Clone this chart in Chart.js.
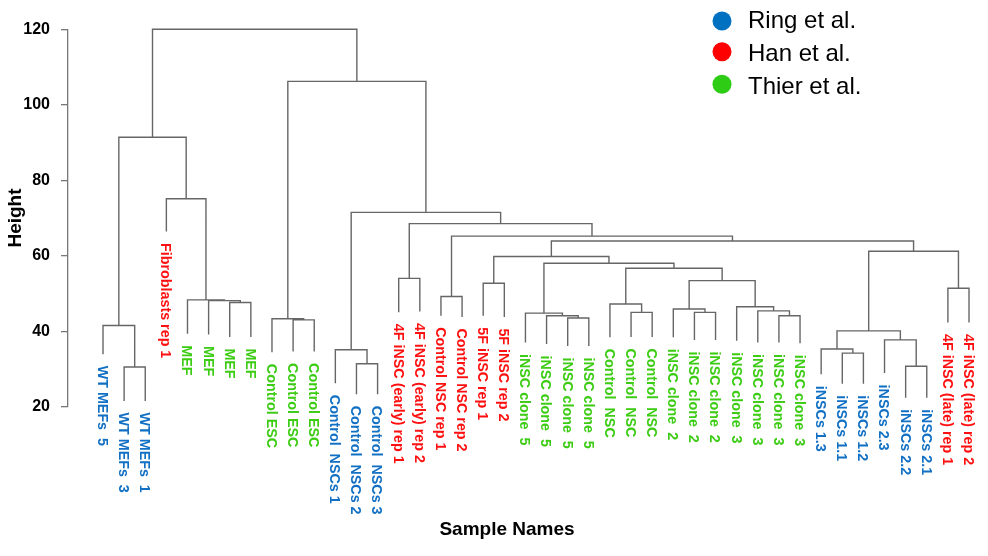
<!DOCTYPE html>
<html>
<head>
<meta charset="utf-8">
<script src="https://cdn.jsdelivr.net/npm/chart.js@4.4.1/dist/chart.umd.min.js"></script>
<style>
  html, body { margin: 0; padding: 0; background: #fff; }
  #wrap { width: 988px; height: 556px; position: relative; }
</style>
</head>
<body>
<div id="wrap"><canvas id="dendro"></canvas></div>
<script>
// leaves, left to right
const leafLabels = [
  'WT MEFs  5', 'WT MEFs  3', 'WT MEFs  1', 'Fibroblasts rep 1',
  'MEF', 'MEF', 'MEF', 'MEF',
  'Control ESC', 'Control ESC', 'Control ESC',
  'Control  NSCs 1', 'Control  NSCs 2', 'Control  NSCs 3',
  '4F iNSC (early) rep 1', '4F iNSC (early) rep 2',
  'Control NSC rep 1', 'Control NSC rep 2',
  '5F iNSC rep 1', '5F iNSC rep 2',
  'iNSC clone  5', 'iNSC clone  5', 'iNSC clone  5', 'iNSC clone  5',
  'Control  NSC', 'Control  NSC', 'Control  NSC',
  'iNSC clone  2', 'iNSC clone  2', 'iNSC clone  2',
  'iNSC clone  3', 'iNSC clone  3', 'iNSC clone  3', 'iNSC clone  3',
  'iNSCs 1.3', 'iNSCs 1.1', 'iNSCs 1.2', 'iNSCs 2.3', 'iNSCs 2.2', 'iNSCs 2.1',
  '4F iNSC (late) rep 1', '4F iNSC (late) rep 2'
];
// 0 = Ring, 1 = Han, 2 = Thier
const leafStudy = [
  0, 0, 0, 1,
  2, 2, 2, 2,
  2, 2, 2,
  0, 0, 0,
  1, 1,
  1, 1,
  1, 1,
  2, 2, 2, 2,
  2, 2, 2,
  2, 2, 2,
  2, 2, 2, 2,
  0, 0, 0, 0, 0, 0,
  1, 1
];
// height where each leaf line ends
const leafBase = [
  33.9, 21.5, 21.5, 66.4,
  39.3, 39.1, 38.5, 38.5,
  34.4, 34.6, 34.6,
  26.2, 23.3, 23.3,
  45.0, 45.2,
  44.1, 43.8,
  44.1, 43.8,
  37.0, 36.6, 36.1, 36.1,
  38.4, 38.5, 38.5,
  38.4, 37.7, 37.7,
  37.5, 37.0, 37.0, 36.8,
  28.6, 26.1, 26.1, 28.9, 22.4, 22.4,
  42.3, 42.3
];
// merges like R hclust: negative = leaf number, positive = earlier merge row
const merges = [
  [-2, -3, 30.5],
  [-1, 1, 41.5],
  [-7, -8, 47.6],
  [-6, 3, 48.1],
  [-5, 4, 48.3],
  [-4, 5, 75.1],
  [2, 6, 91.4],
  [-10, -11, 43.0],
  [-9, 8, 43.3],
  [-13, -14, 31.4],
  [-12, 10, 35.1],
  [-15, -16, 54.0],
  [-17, -18, 49.2],
  [-19, -20, 52.7],
  [-23, -24, 43.5],
  [-22, 15, 44.1],
  [-21, 16, 44.8],
  [-26, -27, 45.0],
  [-25, 18, 47.2],
  [-29, -30, 45.0],
  [-28, 20, 45.9],
  [-33, -34, 44.1],
  [-32, 22, 45.4],
  [-31, 23, 46.5],
  [21, 24, 53.4],
  [19, 25, 56.7],
  [17, 26, 58.0],
  [14, 27, 59.8],
  [-36, -37, 34.2],
  [-35, 29, 35.3],
  [-39, -40, 30.7],
  [-38, 31, 37.7],
  [30, 32, 40.1],
  [-41, -42, 51.4],
  [33, 34, 61.2],
  [28, 35, 63.9],
  [13, 36, 65.2],
  [12, 37, 68.5],
  [11, 38, 71.5],
  [9, 39, 106.2],
  [7, 40, 120]
];
const studies = ['Ring et al.', 'Han et al.', 'Thier et al.'];
const studyColors = ['#0070c0', '#ff0000', '#2ecc14'];
const labelColors = ['#1170c4', '#ff1010', '#3ccc14'];

// build the segments
const nodeX = [], nodeH = [];
const segs = [];
merges.forEach(function (m) {
  const h = m[2];
  const ends = [m[0], m[1]].map(function (c) {
    return c < 0 ? { x: -c, y: leafBase[-c - 1] } : { x: nodeX[c - 1], y: nodeH[c - 1] };
  });
  segs.push({ x: ends[0].x, y: ends[0].y }, { x: ends[0].x, y: h },
            { x: ends[1].x, y: h }, { x: ends[1].x, y: ends[1].y },
            { x: ends[1].x, y: null });
  nodeX.push((ends[0].x + ends[1].x) / 2);
  nodeH.push(h);
});

const extras = {
  id: 'extras',
  afterDatasetsDraw(chart) {
    const c = chart.ctx;
    const xs = chart.scales.x, ys = chart.scales.y;
    c.save();
    // leaf labels
    c.font = 'bold 14.3px "Liberation Sans", Arial, sans-serif';
    c.textAlign = 'left';
    c.textBaseline = 'alphabetic';
    leafLabels.forEach(function (lab, i) {
      const px = xs.getPixelForValue(i + 1);
      const py = ys.getPixelForValue(leafBase[i]) + 11.5;
      c.save();
      c.translate(px, py);
      c.rotate(Math.PI / 2);
      c.fillStyle = labelColors[leafStudy[i]];
      c.fillText(lab, 0, 5.1);
      c.restore();
    });
    // x title
    c.fillStyle = '#000';
    c.font = 'bold 19px "Liberation Sans", Arial, sans-serif';
    c.textAlign = 'center';
    c.textBaseline = 'middle';
    c.fillText('Sample Names', 507, 530);
    // legend
    const ly = [21, 51.7, 84.3];
    const lb = [28, 61, 93.5];
    c.font = '24px "Liberation Sans", Arial, sans-serif';
    c.textAlign = 'left';
    c.textBaseline = 'alphabetic';
    studies.forEach(function (s, i) {
      c.beginPath();
      c.arc(722, ly[i], 9.5, 0, Math.PI * 2);
      c.fillStyle = studyColors[i];
      c.fill();
      c.fillStyle = '#000';
      c.fillText(s, 748, lb[i]);
    });
    c.restore();
  }
};

new Chart(document.getElementById('dendro'), {
  type: 'scatter',
  data: {
    datasets: [{
      data: segs,
      showLine: true,
      spanGaps: false,
      borderColor: '#666',
      borderWidth: 1.4,
      pointRadius: 0,
      clip: false
    }]
  },
  options: {
    responsive: true,
    maintainAspectRatio: false,
    animation: false,
    layout: { padding: { top: 29.3, right: 8, bottom: 149.3, left: 0 } },
    plugins: { legend: { display: false }, tooltip: { enabled: false } },
    scales: {
      x: { type: 'linear', display: false, min: -0.657, max: 42.52 },
      y: {
        type: 'linear',
        min: 20,
        max: 120,
        afterFit: function (s) { s.width = 68; },
        ticks: { stepSize: 20, color: '#000', padding: 11, font: { size: 16, weight: 'bold', family: '"Liberation Sans", Arial, sans-serif' } },
        grid: { display: true, drawOnChartArea: false, drawTicks: true, tickLength: 7, color: '#777', lineWidth: 1.3 },
        border: { display: true, color: '#777', width: 1.3 },
        title: { display: true, text: 'Height', color: '#000', padding: { top: 4, bottom: 0 }, font: { size: 19, weight: 'bold', family: '"Liberation Sans", Arial, sans-serif' } }
      }
    }
  },
  plugins: [extras]
});
</script>
</body>
</html>
